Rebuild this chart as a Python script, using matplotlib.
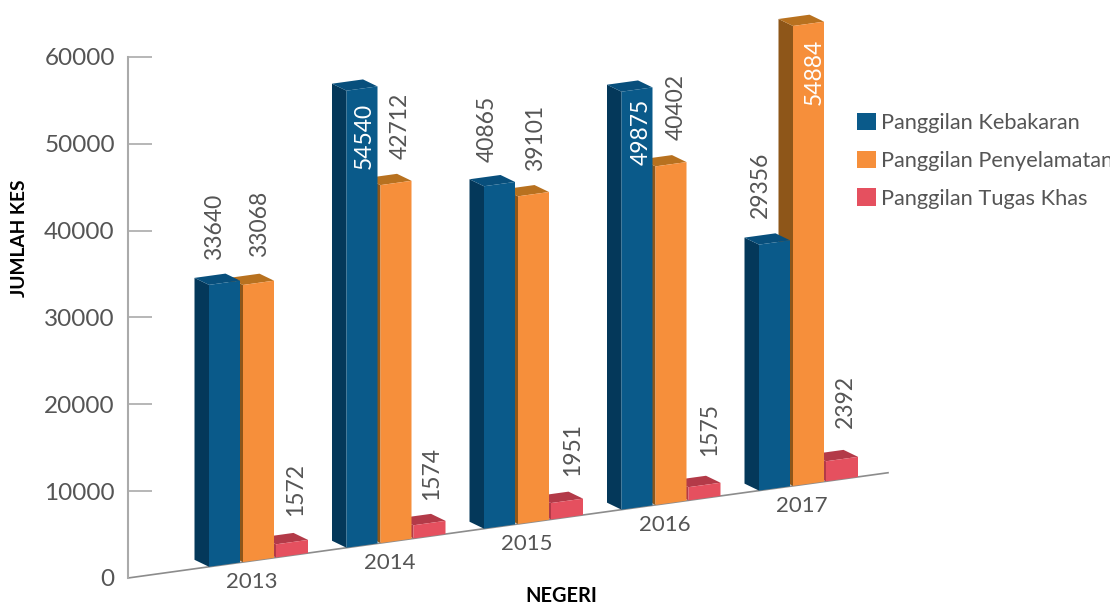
import matplotlib
matplotlib.use("Agg")
import matplotlib.pyplot as plt
from matplotlib.patches import Polygon, Patch
from matplotlib.transforms import Affine2D

plt.rcParams['font.family'] = ['Lato', 'DejaVu Sans']

years = ['2013', '2014', '2015', '2016', '2017']
kebakaran = [33640, 54540, 40865, 49875, 29356]
penyelamatan = [33068, 42712, 39101, 40402, 54884]
tugas_khas = [1572, 1574, 1951, 1575, 2392]
y_ticks = [0, 10000, 20000, 30000, 40000, 50000, 60000]
legend_names = ['Panggilan Kebakaran', 'Panggilan Penyelamatan', 'Panggilan Tugas Khas']

# where each value label sits in the picture (pixels, centre of text)
pos_kebakaran = [(215, 227), (364, 136), (487, 129), (641, 132), (760, 185)]
pos_penyelamatan = [(260, 224), (400, 126), (536, 138), (676, 107), (814, 72)]
pos_tugas = [(296, 489), (432, 473), (573, 450), (710, 430), (845, 402)]

blue = ('#0A5A8A', '#04385A', '#084F7C')
orange = ('#F68F3B', '#8E5619', '#B8711F')
red = ('#E5505F', '#B33A48', '#B33A48')
grey = '#555555'

W, H = 1110, 606
fig = plt.figure(figsize=(W / 100, H / 100), dpi=100)

# axes box follows the y axis of the picture, 137.5 px per year on x
step = 137.5
x_left = -81 / step
x_right = (888 - 209) / step
ax = fig.add_axes([128 / W, (H - 578) / H, 760 / W, 521 / H])
ax.set_xlim(x_left, x_right)
ax.set_ylim(0, 60000)
ax.patch.set_visible(False)

unit = 521 / 60000  # px per case on the axis
rise = 0.1385 * step / unit  # baseline climbs to the right
squash = 0.00838 / unit  # bars are drawn a bit shorter than the axis says
skew = Affine2D.from_values(1, rise, 0, squash, 0, rise * -x_left) + ax.transData

dx = -14.5 / step
dy = 9 / (unit * squash)


def draw_bar(x, width, value, cols, z):
    front, side, top = cols
    r = x + width
    ax.add_patch(Polygon([(x, 0), (r, 0), (r, value), (x, value)], transform=skew,
                         fc=front, ec='none', zorder=z + 0.2, clip_on=False))
    ax.add_patch(Polygon([(x, 0), (x, value), (x + dx, value + dy), (x + dx, dy)], transform=skew,
                         fc=side, ec='none', zorder=z, clip_on=False))
    ax.add_patch(Polygon([(x, value), (r, value), (r + dx, value + dy), (x + dx, value + dy)], transform=skew,
                         fc=top, ec='none', zorder=z + 0.1, clip_on=False))


for i in range(len(years)):
    draw_bar(i + 67 / step, 32 / step, tugas_khas[i], red, 3)
    draw_bar(i + 34 / step, 31 / step, penyelamatan[i], orange, 4)
    draw_bar(i, 31 / step, kebakaran[i], blue, 5)
    ax.text(i + 43 / step, -2500, years[i], transform=skew, ha='center', va='center',
            fontsize=16, color=grey, clip_on=False)

# floor line
ax.plot([x_left, x_right], [0, 0], transform=skew, color='#8c8c8c', lw=1.2, zorder=2, clip_on=False)

for s in ['top', 'right', 'bottom']:
    ax.spines[s].set_visible(False)
ax.spines['left'].set_color('#aaaaaa')
ax.spines['left'].set_linewidth(1.5)
ax.set_xticks([])
ax.set_yticks(y_ticks)
ax.tick_params(axis='y', direction='in', length=17, width=1.2, color='#aaaaaa',
               labelsize=17.5, labelcolor=grey, pad=9.5)
ax.get_yticklines()[0].set_visible(False)

# pixel coordinates with the origin at top left
px = Affine2D().scale(1, -1).translate(0, H)

for vals, pos in [(kebakaran, pos_kebakaran), (penyelamatan, pos_penyelamatan), (tugas_khas, pos_tugas)]:
    for v, p in zip(vals, pos):
        # the tallest columns carry their label inside the bar
        col = 'white' if v in (54540, 49875, 54884) else grey
        fig.text(p[0], p[1], str(v), transform=px, rotation=90, ha='center', va='center',
                 fontsize=16.5, color=col, zorder=10)

fig.text(20, 238, 'JUMLAH KES', transform=px, rotation=90, ha='center', va='center',
         fontsize=13.8, color='black', fontweight='bold')
fig.text(561, 596, 'NEGERI', transform=px, ha='center', va='center',
         fontsize=14.4, color='black', fontweight='bold')

handles = [Patch(fc=blue[0]), Patch(fc=orange[0]), Patch(fc=red[0])]
fig.legend(handles, legend_names, loc='upper left', bbox_to_anchor=(848 / W, 1 - 104 / H),
           frameon=False, fontsize=15.7, labelcolor=grey, handlelength=0.87, handleheight=0.87,
           handletextpad=0.23, labelspacing=0.8, borderaxespad=0, borderpad=0.4)

fig.savefig('out.png', dpi=100)
